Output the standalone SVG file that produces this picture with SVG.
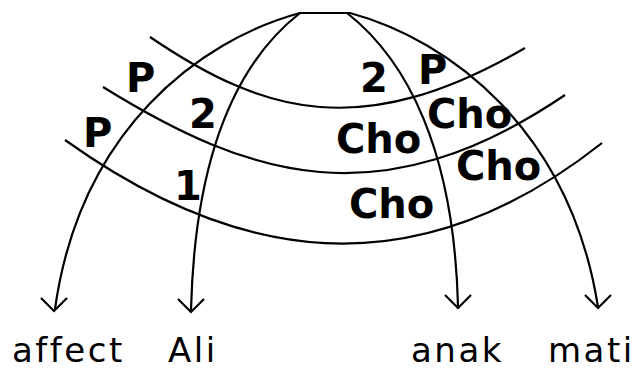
<svg xmlns="http://www.w3.org/2000/svg" width="635" height="370" viewBox="0 0 635 370">
<style>
.ln{fill:none;stroke:#000;stroke-width:2.2}
.lb{font-family:"DejaVu Sans",sans-serif;font-weight:bold;font-size:40px;fill:#000}
.wd{font-family:"DejaVu Sans",sans-serif;font-size:34px;fill:#000;letter-spacing:2.5px}
</style>
<defs>
<path id="ah" d="M-13,-13 L0,0 L13,-13" fill="none" stroke="#000" stroke-width="2.2"/>
</defs>
<rect width="635" height="370" fill="#fff"/>
<g id="connectors">
<path class="ln" d="M55,309 C80,130 200,40 300,13 L350,13 C450,40 570,130 598,307"/>
<path class="ln" d="M191,310 C195,150 240,60 300,13 L347,13 C407,60 454,150 458,306"/>
<path class="ln" d="M150,37 C265,115 363,142 525,48"/>
<path class="ln" d="M103,87 C250,178 380,220 565,95"/>
<path class="ln" d="M65,140 C233,260 411,294 602,143"/>
<use href="#ah" x="54" y="311"/>
<use href="#ah" x="191" y="312"/>
<use href="#ah" x="458" y="308"/>
<use href="#ah" x="598" y="308"/>
</g>
<g id="labels">
<text class="lb" x="126" y="92">P</text>
<text class="lb" x="83" y="147">P</text>
<text class="lb" x="189" y="128">2</text>
<text class="lb" x="174" y="200">1</text>
<text class="lb" x="360" y="92">2</text>
<text class="lb" x="418" y="84">P</text>
<text class="lb" x="427" y="128">Cho</text>
<text class="lb" x="336" y="153">Cho</text>
<text class="lb" x="456" y="180">Cho</text>
<text class="lb" x="349" y="218">Cho</text>
</g>
<g id="node-affect"><text class="wd" x="12" y="362">affect</text></g>
<g id="node-Ali"><text class="wd" x="168" y="362">Ali</text></g>
<g id="node-anak"><text class="wd" x="411" y="362">anak</text></g>
<g id="node-mati"><text class="wd" x="548" y="362">mati</text></g>
</svg>
